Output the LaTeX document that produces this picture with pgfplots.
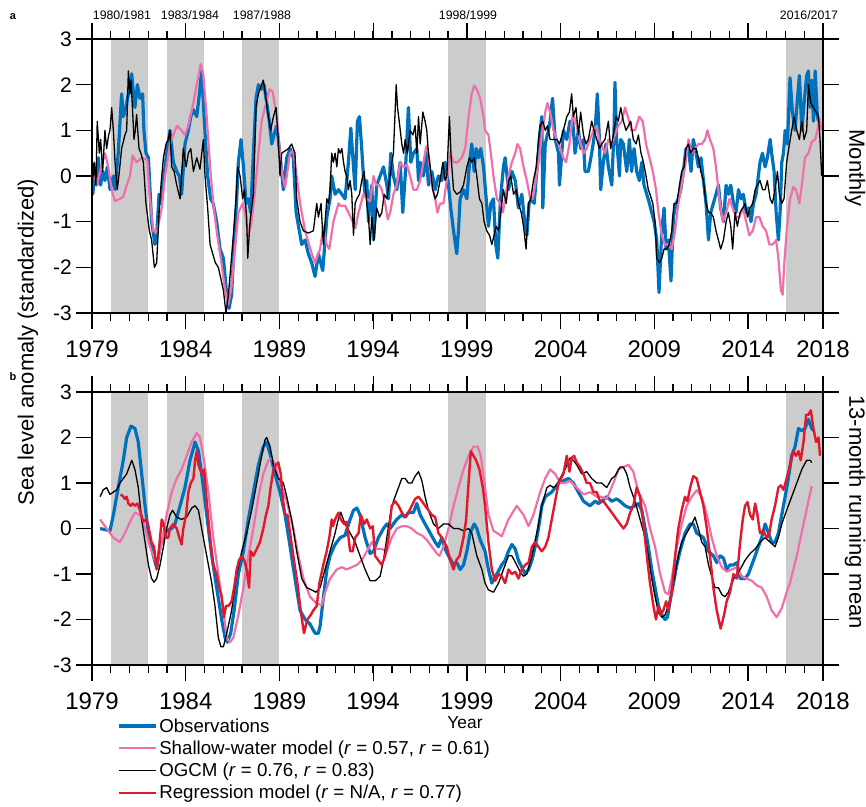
\documentclass[border=0pt]{standalone}
\usepackage{pgfplots}
\pgfplotsset{compat=1.18}
\usepackage{fontspec}
\setmainfont{Liberation Sans}

\definecolor{obsblue}{RGB}{0,114,189}
\definecolor{swpink}{RGB}{240,110,170}
\definecolor{regred}{RGB}{225,25,45}
\definecolor{shade}{RGB}{204,204,204}

\pgfplotsset{
  panel/.style={
    scale only axis, width=731pt,
    xmin=1979, xmax=2018, ymin=-3, ymax=3,
    xtick={1979,1984,1989,1994,1999,2004,2009,2014,2018},
    minor xtick={1979,...,2018},
    ytick={-3,-2,-1,0,1,2,3},
    tick align=outside, tick pos=both,
    xticklabel pos=lower, yticklabel pos=left,
    major tick length=16pt, minor tick length=8pt,
    axis line style={line width=1.8pt},
    tick style={black, line width=1.3pt},
    axis on top,
    /pgf/number format/assume math mode=true,
    /pgf/number format/1000 sep={},
    xticklabel style={font=\fontsize{24}{28}\selectfont, inner sep=1pt, yshift=-11pt},
    yticklabel style={font=\fontsize{21}{25}\selectfont, inner sep=4pt},
    anchor=south west,
  },
  obs/.style={color=obsblue, line width=3.2pt, line join=round},
  sw/.style={color=swpink, line width=2.2pt, line join=round},
  ogcm/.style={color=black, line width=1.3pt, line join=round},
  reg/.style={color=regred, line width=2.4pt, line join=round},
  shaded/.style={fill=shade, draw=none, forget plot},
}

\begin{document}
\begin{tikzpicture}
\useasboundingbox (0,0) rectangle (866pt,-806pt);

% ---------------- panel a: monthly ----------------
\begin{axis}[panel, at={(92pt,-313pt)}, height=274pt]
\addplot[shaded] coordinates {(1980,-3) (1980,3) (1982,3) (1982,-3)} -- cycle;
\addplot[shaded] coordinates {(1983,-3) (1983,3) (1985,3) (1985,-3)} -- cycle;
\addplot[shaded] coordinates {(1987,-3) (1987,3) (1989,3) (1989,-3)} -- cycle;
\addplot[shaded] coordinates {(1998,-3) (1998,3) (2000,3) (2000,-3)} -- cycle;
\addplot[shaded] coordinates {(2016,-3) (2016,3) (2018,3) (2018,-3)} -- cycle;

% observations
\addplot[obs] coordinates {
(1979.00,0.05) (1979.04,-0.4) (1979.16,0.1) (1979.25,-0.2) (1979.34,0.4) (1979.46,-0.2)
(1979.57,0.1) (1979.69,-0.1) (1979.82,0.2) (1979.96,-0.3) (1980.14,0.0) (1980.23,-0.3)
(1980.40,0.5) (1980.58,1.8) (1980.67,1.3) (1980.81,1.5) (1980.94,1.8) (1981.12,2.24)
(1981.21,1.8) (1981.29,1.5) (1981.42,2.0) (1981.56,1.7) (1981.70,1.8) (1981.77,1.0)
(1981.88,0.5) (1982.01,0.4) (1982.18,-1.0) (1982.36,-1.5) (1982.45,-1.3) (1982.58,-0.4)
(1982.68,-0.6) (1982.81,-0.1) (1982.98,0.5) (1983.16,1.0) (1983.34,0.3) (1983.52,0.1)
(1983.66,0.0) (1983.78,-0.4) (1983.96,0.7) (1984.14,1.0) (1984.27,1.3) (1984.41,1.45)
(1984.59,1.3) (1984.73,1.8) (1984.85,2.3) (1984.98,1.3) (1985.17,0.0) (1985.33,-0.5)
(1985.47,-0.6) (1985.65,-1.0) (1985.83,-1.6) (1986.01,-1.8) (1986.19,-2.6) (1986.31,-2.9)
(1986.45,-2.6) (1986.58,-1.5) (1986.72,-0.5) (1986.81,0.3) (1986.95,0.8) (1987.08,0.2)
(1987.22,-0.6) (1987.34,-0.5) (1987.47,-0.8) (1987.61,0.5) (1987.75,1.7) (1987.88,2.0)
(1988.05,1.9) (1988.18,2.0) (1988.32,1.6) (1988.46,1.2) (1988.59,0.7) (1988.71,0.9)
(1988.85,1.1) (1988.94,0.8) (1989.07,0.3) (1989.21,-0.3) (1989.39,0.4) (1989.57,0.6)
(1989.74,0.4) (1989.89,-0.8) (1990.06,-1.2) (1990.19,-1.5) (1990.37,-1.4) (1990.54,-1.7)
(1990.72,-1.9) (1990.90,-2.2) (1991.08,-1.7) (1991.20,-1.9) (1991.31,-2.07) (1991.53,-0.9)
(1991.70,-0.5) (1991.79,0.0) (1991.97,-0.4) (1992.15,-0.3) (1992.33,-0.4) (1992.50,-0.5)
(1992.68,0.3) (1992.81,1.05) (1992.95,0.2) (1993.04,-0.3) (1993.16,1.2) (1993.27,1.3)
(1993.39,0.6) (1993.48,0.0) (1993.57,-0.4) (1993.66,-0.1) (1993.75,-1.0) (1993.84,-0.5)
(1993.93,-0.2) (1994.02,-1.4) (1994.19,-0.2) (1994.37,0.0) (1994.55,0.2) (1994.73,-0.2)
(1994.82,-0.5) (1994.94,0.5) (1995.08,0.0) (1995.26,-0.3) (1995.44,0.3) (1995.58,-0.8)
(1995.71,0.0) (1995.88,1.5) (1996.01,0.3) (1996.15,0.5) (1996.33,0.6) (1996.42,-0.1)
(1996.51,0.3) (1996.68,0.0) (1996.83,0.5) (1996.95,-0.2) (1997.13,0.1) (1997.31,-0.3)
(1997.48,0.0) (1997.66,-0.1) (1997.84,0.3) (1998.02,-0.2) (1998.14,-0.7) (1998.29,-1.2)
(1998.46,-1.7) (1998.55,-1.2) (1998.64,-0.5) (1998.82,-0.3) (1999.00,-0.5) (1999.14,0.3)
(1999.26,0.7) (1999.39,0.1) (1999.49,0.6) (1999.62,0.4) (1999.74,0.6) (1999.89,0.2)
(2000.03,-0.5) (2000.15,-1.1) (2000.28,-0.6) (2000.42,-0.5) (2000.54,-1.5) (2000.65,-1.8)
(2000.78,-0.6) (2000.86,-0.2) (2000.95,0.2) (2001.04,0.4) (2001.22,-0.3) (2001.40,0.1)
(2001.58,-0.1) (2001.75,-0.7) (2001.93,-0.4) (2002.06,-0.9) (2002.20,-1.3) (2002.32,-0.6)
(2002.47,-0.5) (2002.59,-0.6) (2002.73,0.1) (2002.82,0.5) (2002.91,1.0) (2003.00,1.3)
(2003.05,-0.7) (2003.18,0.7) (2003.35,1.0) (2003.44,1.2) (2003.57,1.7) (2003.71,0.8)
(2003.89,0.5) (2003.94,-0.2) (2004.15,1.0) (2004.33,0.8) (2004.50,1.2) (2004.65,1.2)
(2004.77,0.5) (2004.95,1.0) (2005.07,0.6) (2005.22,0.8) (2005.30,0.1) (2005.48,0.1)
(2005.66,0.5) (2005.84,1.0) (2005.96,1.8) (2006.07,0.8) (2006.14,-0.3) (2006.28,0.3)
(2006.42,0.7) (2006.55,0.2) (2006.73,-0.2) (2006.85,1.0) (2006.90,2.05) (2006.99,0.8)
(2007.14,0.0) (2007.21,0.8) (2007.35,0.7) (2007.53,0.1) (2007.67,0.8) (2007.79,0.1)
(2007.92,0.6) (2008.06,0.1) (2008.20,-0.1) (2008.33,0.3) (2008.45,-0.2) (2008.60,-0.4)
(2008.74,-0.6) (2008.86,-0.8) (2008.99,-1.0) (2009.13,-1.4) (2009.25,-2.55) (2009.40,-1.2)
(2009.52,-0.7) (2009.63,-1.6) (2009.75,-1.4) (2009.89,-2.3) (2010.02,-0.9) (2010.16,-0.6)
(2010.28,-0.5) (2010.41,-0.3) (2010.55,0.1) (2010.69,0.6) (2010.82,0.6) (2010.96,0.1)
(2011.08,0.8) (2011.23,0.5) (2011.35,0.2) (2011.49,0.4) (2011.62,-0.1) (2011.76,-0.6)
(2011.89,-1.4) (2012.01,-0.8) (2012.15,-0.6) (2012.29,-0.4) (2012.42,-0.2) (2012.54,-0.7)
(2012.69,-1.0) (2012.83,-0.2) (2012.95,-0.4) (2013.08,-0.2) (2013.22,-0.6) (2013.36,-0.8)
(2013.49,-0.3) (2013.63,-0.5) (2013.75,-0.4) (2013.90,-0.8) (2014.02,-0.7) (2014.16,-1.0)
(2014.29,-0.6) (2014.43,-0.4) (2014.55,0.0) (2014.64,0.3) (2014.77,0.5) (2014.91,0.2)
(2015.03,0.4) (2015.18,0.8) (2015.26,0.5) (2015.39,0.1) (2015.50,-0.8) (2015.62,-1.4)
(2015.71,-0.8) (2015.80,0.3) (2015.89,0.5) (2015.98,1.0) (2016.10,0.7) (2016.24,2.15)
(2016.37,1.4) (2016.51,1.0) (2016.60,1.5) (2016.74,2.2) (2016.87,1.0) (2016.99,1.6)
(2017.13,2.2) (2017.22,2.3) (2017.31,1.5) (2017.40,2.1) (2017.49,1.2) (2017.58,2.3)
(2017.70,1.3) (2017.76,1.2)
};

% shallow-water model
\addplot[sw] coordinates {
(1979.00,0.3) (1979.25,-0.2) (1979.69,0.5) (1979.87,0.2) (1980.05,-0.3) (1980.23,-0.55)
(1980.49,-0.5) (1980.67,-0.45) (1980.85,-0.2) (1981.03,0.0) (1981.17,0.45) (1981.38,0.3)
(1981.65,0.4) (1981.95,0.35) (1982.09,-0.5) (1982.27,-1.2) (1982.45,-1.25) (1982.72,-0.7)
(1982.90,0.0) (1983.16,0.7) (1983.43,1.0) (1983.55,1.1) (1983.78,1.0) (1983.96,0.9)
(1984.14,1.1) (1984.41,1.6) (1984.59,2.0) (1984.80,2.45) (1984.94,2.2) (1985.12,1.3)
(1985.30,0.2) (1985.47,-0.6) (1985.65,-1.2) (1985.87,-1.8) (1986.10,-2.5) (1986.28,-2.8)
(1986.45,-2.4) (1986.63,-1.6) (1986.81,-0.8) (1987.04,-0.6) (1987.16,-0.8) (1987.34,-1.3)
(1987.52,-1.0) (1987.70,-0.3) (1987.88,0.5) (1988.05,1.2) (1988.23,1.5) (1988.46,1.9)
(1988.64,1.85) (1988.85,1.3) (1989.03,0.5) (1989.17,0.0) (1989.30,-0.25) (1989.57,0.5)
(1989.74,0.55) (1989.92,0.0) (1990.10,-0.6) (1990.37,-1.2) (1990.72,-1.7) (1990.90,-1.9)
(1991.17,-1.6) (1991.34,-1.1) (1991.52,-1.5) (1991.66,-1.6) (1991.88,-1.0) (1992.15,-0.6)
(1992.24,-0.65) (1992.50,-0.65) (1992.68,-0.8) (1992.86,-0.95) (1993.04,-1.15) (1993.22,-0.8)
(1993.48,-0.4) (1993.66,-0.5) (1993.84,-0.55) (1994.02,0.0) (1994.16,-0.2) (1994.34,-0.2)
(1994.46,-0.3) (1994.64,-0.6) (1994.78,-0.95) (1994.91,-0.8) (1995.08,-0.4) (1995.26,-0.2)
(1995.44,0.3) (1995.62,0.2) (1995.80,0.25) (1995.97,0.0) (1996.15,-0.3) (1996.33,-0.3)
(1996.51,-0.1) (1996.68,0.3) (1996.83,0.65) (1996.95,0.5) (1997.13,-0.2) (1997.31,-0.5)
(1997.43,-0.8) (1997.57,-0.6) (1997.75,-0.6) (1997.93,-0.1) (1998.11,0.5) (1998.29,0.3)
(1998.50,0.3) (1998.73,0.4) (1998.91,0.6) (1999.09,1.3) (1999.26,1.8) (1999.39,1.98)
(1999.53,1.9) (1999.71,1.7) (1999.89,1.3) (1999.97,1.0) (2000.15,0.9) (2000.28,0.5)
(2000.42,0.0) (2000.60,-0.5) (2000.78,-0.6) (2000.92,-0.8) (2001.04,-0.5) (2001.22,0.0)
(2001.40,0.3) (2001.58,0.5) (2001.70,0.7) (2001.84,0.6) (2002.02,0.2) (2002.20,-0.1)
(2002.38,-0.5) (2002.52,-0.5) (2002.64,-0.2) (2002.82,0.3) (2003.00,0.9) (2003.18,1.4)
(2003.30,1.6) (2003.44,1.4) (2003.62,1.0) (2003.80,0.8) (2003.98,0.6) (2004.15,0.4)
(2004.29,0.3) (2004.47,0.7) (2004.65,1.35) (2004.82,1.2) (2005.00,0.8) (2005.22,0.5)
(2005.39,0.6) (2005.57,0.8) (2005.75,1.0) (2005.93,1.1) (2006.07,0.8) (2006.25,0.6)
(2006.37,0.5) (2006.55,0.8) (2006.73,0.7) (2006.90,0.9) (2007.08,1.1) (2007.26,1.2)
(2007.44,1.5) (2007.62,1.25) (2007.79,1.0) (2007.97,1.0) (2008.20,1.3) (2008.38,1.2)
(2008.56,0.7) (2008.74,0.4) (2008.92,0.1) (2009.09,-0.3) (2009.22,-0.8) (2009.40,-1.3)
(2009.57,-1.5) (2009.75,-1.5) (2009.93,-1.6) (2010.11,-1.2) (2010.28,-0.6) (2010.46,-0.2)
(2010.64,0.2) (2010.82,0.8) (2011.00,0.5) (2011.17,0.6) (2011.35,0.7) (2011.53,0.7)
(2011.71,0.8) (2011.83,1.0) (2011.97,0.8) (2012.15,0.6) (2012.29,0.2) (2012.47,-0.5)
(2012.65,-1.0) (2012.83,-0.8) (2013.01,-0.5) (2013.18,-0.7) (2013.36,-0.9) (2013.54,-0.9)
(2013.72,-0.7) (2013.90,-1.0) (2014.07,-1.3) (2014.25,-1.2) (2014.43,-0.9) (2014.61,-0.9)
(2014.78,-1.1) (2014.96,-1.2) (2015.14,-1.5) (2015.32,-1.5) (2015.50,-1.4) (2015.62,-1.8)
(2015.75,-2.5) (2015.85,-2.6) (2015.92,-2.0) (2016.06,-1.2) (2016.24,-0.5) (2016.42,-0.24)
(2016.56,-0.3) (2016.74,-0.6) (2016.87,-0.2) (2017.04,0.4) (2017.22,0.5) (2017.40,0.75)
(2017.58,0.8) (2017.70,1.0) (2017.81,1.25) (2017.93,1.0)
};

% ocean general circulation model
\addplot[ogcm] coordinates {
(1979.00,0.4) (1979.07,0.0) (1979.12,0.3) (1979.21,-0.2) (1979.28,1.2) (1979.39,0.5)
(1979.46,0.8) (1979.57,0.1) (1979.69,1.0) (1979.78,0.6) (1979.89,0.9) (1979.96,1.0)
(1980.05,1.5) (1980.14,1.0) (1980.23,0.3) (1980.35,-0.3) (1980.46,0.1) (1980.58,0.6)
(1980.76,0.9) (1980.85,1.0) (1980.94,2.3) (1981.03,1.8) (1981.08,2.1) (1981.17,1.4)
(1981.24,0.8) (1981.31,1.0) (1981.38,1.35) (1981.51,0.6) (1981.61,0.5) (1981.74,0.3)
(1981.88,-0.6) (1982.06,-1.2) (1982.18,-1.4) (1982.33,-2.0) (1982.45,-1.9) (1982.58,-0.8)
(1982.68,-0.2) (1982.81,0.4) (1982.95,0.7) (1983.07,0.8) (1983.16,1.0) (1983.25,0.2)
(1983.38,0.1) (1983.52,-0.2) (1983.70,-0.5) (1983.87,0.6) (1984.02,0.2) (1984.14,0.5)
(1984.27,0.6) (1984.41,0.1) (1984.59,0.4) (1984.76,0.15) (1984.94,0.8) (1985.03,0.0)
(1985.17,-0.7) (1985.30,-1.5) (1985.44,-1.7) (1985.58,-1.9) (1985.74,-2.0) (1986.01,-2.5)
(1986.15,-3.0) (1986.28,-2.6) (1986.40,-2.0) (1986.54,-1.3) (1986.67,-0.6) (1986.77,0.2)
(1986.90,0.0) (1987.04,-0.5) (1987.13,-0.3) (1987.25,-0.9) (1987.31,-1.8) (1987.43,-1.0)
(1987.61,-0.4) (1987.75,1.5) (1987.88,1.8) (1987.96,1.9) (1988.14,2.1) (1988.28,1.7)
(1988.41,1.3) (1988.53,1.0) (1988.68,1.3) (1988.82,1.5) (1988.94,0.8) (1989.03,0.0)
(1989.12,0.5) (1989.48,0.6) (1989.65,0.7) (1989.83,0.5) (1989.92,-0.5) (1990.10,-1.0)
(1990.28,-1.2) (1990.54,-1.25) (1990.81,-1.2) (1990.99,-0.6) (1991.08,-0.9) (1991.22,-0.6)
(1991.34,-1.5) (1991.53,-0.5) (1991.62,-0.6) (1991.70,-0.3) (1991.79,0.5) (1991.88,0.3)
(1991.97,0.5) (1992.06,0.2) (1992.15,0.6) (1992.24,0.5) (1992.33,0.6) (1992.42,0.3)
(1992.50,0.1) (1992.59,0.0) (1992.68,-0.3) (1992.77,-0.1) (1992.86,-0.4) (1992.95,-1.3)
(1993.04,-0.6) (1993.13,-0.5) (1993.27,-0.4) (1993.39,-0.1) (1993.52,0.1) (1993.66,-0.6)
(1993.75,-0.9) (1993.84,-1.5) (1993.93,-0.9) (1994.05,-1.4) (1994.19,-0.7) (1994.34,-0.9)
(1994.46,-0.8) (1994.59,-0.4) (1994.73,-0.5) (1994.87,-0.1) (1995.00,0.3) (1995.08,0.5)
(1995.23,2.0) (1995.30,1.5) (1995.39,1.2) (1995.53,0.7) (1995.62,0.5) (1995.71,0.8)
(1995.83,0.5) (1995.97,1.0) (1996.12,0.9) (1996.24,1.1) (1996.33,0.5) (1996.42,1.3)
(1996.51,0.7) (1996.65,1.4) (1996.77,1.2) (1996.86,1.0) (1996.95,0.5) (1997.04,0.2)
(1997.18,-0.3) (1997.31,-0.5) (1997.43,-0.4) (1997.57,-0.1) (1997.72,0.3) (1997.84,-0.1)
(1997.93,0.0) (1998.07,1.3) (1998.16,0.4) (1998.29,-0.3) (1998.46,-0.4) (1998.64,-0.35)
(1998.82,-0.2) (1999.00,0.2) (1999.14,0.4) (1999.26,0.3) (1999.39,0.4) (1999.53,0.0)
(1999.67,-0.5) (1999.80,-0.6) (1999.92,-1.0) (2000.06,-1.2) (2000.21,-1.3) (2000.33,-1.5)
(2000.45,-1.3) (2000.56,-1.1) (2000.69,-1.2) (2000.81,-0.8) (2000.95,-0.3) (2001.10,-0.6)
(2001.22,-0.1) (2001.34,0.0) (2001.49,-0.4) (2001.63,-0.3) (2001.75,-0.6) (2001.90,-0.8)
(2002.02,-1.1) (2002.16,-1.6) (2002.29,-0.6) (2002.41,-0.5) (2002.55,-0.1) (2002.70,0.2)
(2002.82,0.8) (2002.91,1.1) (2003.05,1.2) (2003.18,1.0) (2003.30,1.1) (2003.44,0.8)
(2003.62,0.8) (2003.80,0.8) (2003.94,0.7) (2004.15,1.0) (2004.33,1.3) (2004.47,1.4)
(2004.59,1.8) (2004.68,1.3) (2004.82,1.5) (2004.95,0.9) (2005.07,1.4) (2005.22,0.9)
(2005.36,0.7) (2005.48,0.8) (2005.66,1.2) (2005.78,1.0) (2005.93,0.8) (2006.07,0.6)
(2006.19,0.7) (2006.37,0.8) (2006.55,1.2) (2006.67,0.6) (2006.82,0.9) (2006.96,1.3)
(2007.08,1.2) (2007.21,1.5) (2007.35,1.2) (2007.49,1.0) (2007.62,1.1) (2007.74,1.2)
(2007.88,0.8) (2008.03,0.7) (2008.15,0.9) (2008.29,0.5) (2008.42,0.3) (2008.56,0.0)
(2008.68,-0.3) (2008.77,-0.4) (2008.92,-0.6) (2009.04,-1.0) (2009.13,-1.8) (2009.27,-1.9)
(2009.40,-1.8) (2009.52,-1.6) (2009.66,-1.6) (2009.80,-1.5) (2009.93,-1.2) (2010.05,-0.6)
(2010.20,-0.6) (2010.34,-0.2) (2010.46,0.1) (2010.59,0.2) (2010.69,0.6) (2010.82,0.7)
(2010.94,0.5) (2011.08,0.6) (2011.23,0.6) (2011.35,0.4) (2011.48,0.1) (2011.62,-0.1)
(2011.76,-0.6) (2011.89,-0.8) (2012.01,-0.8) (2012.15,-0.9) (2012.29,-1.2) (2012.42,-1.4)
(2012.54,-1.6) (2012.69,-1.4) (2012.83,-1.0) (2012.95,-0.8) (2013.08,-1.1) (2013.18,-1.6)
(2013.31,-0.8) (2013.43,-1.1) (2013.57,-0.8) (2013.72,-0.7) (2013.84,-0.6) (2013.97,-0.9)
(2014.11,-0.7) (2014.25,-0.6) (2014.38,-0.3) (2014.50,-0.2) (2014.64,-0.1) (2014.78,-0.3)
(2014.91,-0.3) (2015.03,-0.1) (2015.18,-0.5) (2015.30,-0.6) (2015.44,-0.3) (2015.57,0.1)
(2015.67,-0.4) (2015.80,-0.6) (2015.92,-0.5) (2016.06,0.3) (2016.21,0.7) (2016.33,1.0)
(2016.46,1.3) (2016.60,1.0) (2016.74,0.8) (2016.87,1.2) (2016.99,0.8) (2017.13,1.0)
(2017.22,2.0) (2017.35,1.6) (2017.49,1.5) (2017.63,1.4) (2017.76,1.3) (2017.84,0.8)
(2017.93,0.0)
};
\end{axis}

% ---------------- panel b: 13-month running mean ----------------
\begin{axis}[panel, at={(92pt,-665pt)}, height=273pt,
  legend style={draw=none, fill=none, at={(axis description cs:0.034,-0.188)},
    anchor=north west, font=\fontsize{18.7}{22.4}\selectfont,
    row sep=3.2pt, inner sep=0pt, cells={anchor=west}},
  legend cell align=left,
  legend image code/.code={\draw[#1] (0pt,0pt) -- (37pt,0pt);},
]
\addplot[shaded] coordinates {(1980,-3) (1980,3) (1982,3) (1982,-3)} -- cycle;
\addplot[shaded] coordinates {(1983,-3) (1983,3) (1985,3) (1985,-3)} -- cycle;
\addplot[shaded] coordinates {(1987,-3) (1987,3) (1989,3) (1989,-3)} -- cycle;
\addplot[shaded] coordinates {(1998,-3) (1998,3) (2000,3) (2000,-3)} -- cycle;
\addplot[shaded] coordinates {(2016,-3) (2016,3) (2018,3) (2018,-3)} -- cycle;

\addplot[obs] coordinates {
(1979.43,0.0) (1979.96,-0.05) (1980.14,0.3) (1980.40,0.9) (1980.67,1.5) (1980.85,2.0)
(1981.08,2.25) (1981.29,2.2) (1981.47,1.9) (1981.65,1.2) (1981.83,0.5) (1982.01,-0.1)
(1982.27,-0.6) (1982.45,-0.86) (1982.63,-0.4) (1982.81,-0.2) (1982.98,-0.05) (1983.25,0.0)
(1983.43,0.1) (1983.70,0.5) (1983.96,0.9) (1984.23,1.5) (1984.50,1.9) (1984.68,1.7)
(1984.85,1.2) (1985.12,0.3) (1985.39,-0.6) (1985.65,-1.3) (1985.92,-2.0) (1986.10,-2.4)
(1986.22,-2.5) (1986.40,-2.3) (1986.58,-1.8) (1986.81,-1.0) (1987.08,-0.5) (1987.34,0.2)
(1987.61,0.8) (1987.88,1.4) (1988.14,1.8) (1988.32,1.9) (1988.53,1.6) (1988.76,1.2)
(1989.03,0.8) (1989.30,0.3) (1989.57,-0.4) (1989.83,-1.1) (1990.10,-1.8) (1990.37,-2.0)
(1990.63,-2.1) (1990.90,-2.3) (1991.08,-2.3) (1991.17,-2.14) (1991.35,-1.5) (1991.53,-0.9)
(1991.70,-0.6) (1991.97,-0.35) (1992.24,-0.2) (1992.50,-0.15) (1992.77,0.2) (1992.95,0.4)
(1993.13,0.45) (1993.30,0.3) (1993.57,-0.2) (1993.84,-0.55) (1994.02,-0.5) (1994.28,-0.2)
(1994.55,0.0) (1994.73,0.1) (1994.91,0.0) (1995.08,0.1) (1995.26,0.2) (1995.53,0.3)
(1995.71,0.25) (1995.88,0.35) (1996.15,0.35) (1996.33,0.55) (1996.51,0.3) (1996.77,0.1)
(1997.04,-0.1) (1997.31,-0.3) (1997.48,-0.4) (1997.66,-0.2) (1997.84,-0.45) (1998.02,-0.6)
(1998.29,-0.8) (1998.46,-0.75) (1998.64,-0.9) (1998.82,-0.8) (1999.00,-0.5) (1999.17,-0.1)
(1999.39,0.1) (1999.53,0.0) (1999.71,-0.25) (1999.97,-0.5) (2000.15,-0.9) (2000.33,-1.2)
(2000.45,-1.1) (2000.60,-1.0) (2000.86,-0.8) (2001.04,-0.7) (2001.22,-0.5) (2001.40,-0.35)
(2001.58,-0.45) (2001.75,-0.7) (2001.93,-0.85) (2002.11,-1.0) (2002.29,-0.9) (2002.47,-0.7)
(2002.64,-0.4) (2002.82,0.0) (2003.00,0.5) (2003.18,0.7) (2003.35,0.75) (2003.53,0.8)
(2003.71,0.9) (2003.89,1.0) (2004.15,1.05) (2004.42,1.1) (2004.68,1.0) (2004.95,0.8)
(2005.22,0.6) (2005.39,0.55) (2005.57,0.5) (2005.84,0.6) (2006.02,0.55) (2006.19,0.6)
(2006.46,0.7) (2006.73,0.6) (2006.99,0.65) (2007.17,0.6) (2007.44,0.5) (2007.71,0.45)
(2007.97,0.5) (2008.15,0.55) (2008.33,0.4) (2008.51,0.0) (2008.68,-0.4) (2008.86,-0.9)
(2009.04,-1.3) (2009.22,-1.7) (2009.40,-1.9) (2009.57,-2.0) (2009.70,-1.95) (2009.84,-1.6)
(2010.02,-1.2) (2010.20,-0.8) (2010.37,-0.5) (2010.64,-0.1) (2010.91,0.1) (2011.08,0.1)
(2011.26,-0.1) (2011.44,-0.15) (2011.62,-0.2) (2011.89,-0.5) (2012.15,-0.6) (2012.33,-0.75)
(2012.51,-0.6) (2012.69,-0.65) (2012.86,-0.9) (2013.04,-0.8) (2013.22,-0.8) (2013.40,-0.75)
(2013.58,-1.1) (2013.84,-1.1) (2014.02,-1.0) (2014.20,-0.8) (2014.38,-0.6) (2014.55,-0.4)
(2014.73,-0.2) (2014.91,0.1) (2015.09,-0.1) (2015.26,-0.3) (2015.44,-0.3) (2015.62,-0.1)
(2015.80,0.3) (2015.98,0.7) (2016.15,1.1) (2016.33,1.6) (2016.51,1.8) (2016.69,2.2)
(2016.87,2.15) (2017.04,2.2) (2017.22,2.4) (2017.40,2.2) (2017.49,2.15)
};
\addlegendentry{Observations}

\addplot[sw] coordinates {
(1979.43,0.2) (1979.78,0.0) (1980.14,-0.2) (1980.49,-0.3) (1980.76,-0.1) (1981.03,0.15)
(1981.29,0.35) (1981.56,0.3) (1981.83,0.0) (1982.09,-0.4) (1982.36,-0.7) (1982.49,-0.75)
(1982.72,-0.3) (1982.98,0.3) (1983.25,0.8) (1983.52,1.1) (1983.78,1.3) (1984.05,1.6)
(1984.32,1.9) (1984.59,2.1) (1984.76,2.0) (1984.94,1.6) (1985.21,0.8) (1985.47,-0.2)
(1985.74,-1.0) (1986.01,-1.8) (1986.19,-2.4) (1986.36,-2.5) (1986.54,-2.4) (1986.81,-1.9)
(1987.08,-1.3) (1987.34,-0.6) (1987.61,0.0) (1987.88,0.7) (1988.14,1.2) (1988.41,1.5)
(1988.59,1.55) (1988.76,1.4) (1989.03,1.0) (1989.39,0.6) (1989.74,0.0) (1990.01,-0.6)
(1990.28,-1.1) (1990.63,-1.5) (1990.99,-1.65) (1991.26,-1.68) (1991.44,-1.4) (1991.70,-1.1)
(1992.06,-0.9) (1992.33,-0.85) (1992.59,-0.9) (1992.86,-0.85) (1993.13,-0.8) (1993.39,-0.7)
(1993.66,-0.5) (1993.93,-0.3) (1994.19,-0.45) (1994.46,-0.45) (1994.73,-0.5) (1994.99,-0.2)
(1995.26,0.0) (1995.53,0.05) (1995.80,0.05) (1996.06,0.0) (1996.33,-0.1) (1996.60,-0.15)
(1996.86,-0.25) (1997.13,-0.4) (1997.40,-0.55) (1997.54,-0.6) (1997.75,-0.4) (1998.02,0.0)
(1998.29,0.5) (1998.55,0.9) (1998.82,1.3) (1999.09,1.6) (1999.35,1.8) (1999.58,1.8)
(1999.74,1.6) (1999.97,0.9) (2000.15,0.3) (2000.42,-0.05) (2000.69,-0.12) (2000.86,-0.17)
(2001.22,0.2) (2001.66,0.5) (2002.02,0.3) (2002.29,0.05) (2002.55,0.3) (2002.91,0.8)
(2003.18,1.1) (2003.44,1.3) (2003.71,1.2) (2003.98,1.0) (2004.24,1.0) (2004.50,1.05)
(2004.86,0.9) (2005.22,0.75) (2005.57,0.8) (2005.93,0.7) (2006.19,0.7) (2006.46,0.65)
(2006.82,1.0) (2007.08,1.3) (2007.35,1.35) (2007.62,1.4) (2007.88,1.25) (2008.15,0.8)
(2008.51,0.5) (2008.77,0.0) (2009.04,-0.4) (2009.31,-1.0) (2009.57,-1.4) (2009.75,-1.45)
(2009.93,-1.1) (2010.20,-0.4) (2010.46,0.1) (2010.73,0.5) (2011.00,0.7) (2011.26,0.84)
(2011.53,0.7) (2011.80,0.3) (2012.06,-0.2) (2012.33,-0.6) (2012.60,-0.85) (2012.86,-0.95)
(2013.13,-0.9) (2013.40,-0.85) (2013.67,-1.05) (2013.93,-1.1) (2014.20,-1.15) (2014.47,-1.25)
(2014.73,-1.3) (2015.00,-1.5) (2015.26,-1.8) (2015.53,-1.95) (2015.80,-1.75) (2016.06,-1.4)
(2016.24,-1.2) (2016.60,-0.6) (2016.96,0.1) (2017.22,0.6) (2017.40,0.93)
};
\addlegendentry{Shallow-water model (\textit{r} = 0.57, \textit{r} = 0.61)}

\addplot[ogcm] coordinates {
(1979.43,0.7) (1979.60,0.85) (1979.78,0.9) (1979.96,0.75) (1980.14,0.8) (1980.32,0.85)
(1980.49,1.0) (1980.67,1.1) (1980.85,1.2) (1981.03,1.4) (1981.12,1.5) (1981.29,1.3)
(1981.47,0.9) (1981.65,0.2) (1981.83,-0.3) (1982.01,-0.8) (1982.18,-1.1) (1982.31,-1.18)
(1982.45,-1.1) (1982.63,-0.8) (1982.81,-0.4) (1982.98,0.0) (1983.16,0.3) (1983.30,0.4)
(1983.52,0.25) (1983.78,0.2) (1984.05,0.25) (1984.32,0.45) (1984.50,0.5) (1984.68,0.4)
(1984.85,0.0) (1985.12,-0.6) (1985.39,-1.2) (1985.56,-1.7) (1985.74,-2.4) (1985.88,-2.6)
(1986.01,-2.6) (1986.19,-2.3) (1986.45,-1.8) (1986.72,-1.0) (1986.99,-0.5) (1987.25,-0.1)
(1987.52,0.4) (1987.79,1.0) (1988.05,1.6) (1988.23,1.95) (1988.32,2.0) (1988.50,1.8)
(1988.68,1.4) (1988.94,1.1) (1989.21,1.0) (1989.39,0.7) (1989.65,0.2) (1989.92,-0.5)
(1990.19,-1.1) (1990.45,-1.3) (1990.72,-1.35) (1990.95,-1.4) (1991.17,-1.3) (1991.43,-0.9)
(1991.70,-0.5) (1991.97,-0.1) (1992.14,0.2) (1992.27,0.36) (1992.50,0.1) (1992.77,-0.1)
(1993.04,-0.3) (1993.30,-0.6) (1993.57,-0.9) (1993.84,-1.15) (1994.11,-1.15) (1994.37,-1.05)
(1994.55,-0.7) (1994.73,-0.2) (1994.91,0.3) (1995.08,0.6) (1995.35,0.9) (1995.53,1.1)
(1995.71,1.1) (1995.88,1.0) (1996.06,1.0) (1996.24,1.15) (1996.42,1.25) (1996.60,1.05)
(1996.77,0.7) (1996.95,0.4) (1997.22,0.1) (1997.48,0.0) (1997.75,0.1) (1998.02,0.1)
(1998.29,0.0) (1998.55,0.0) (1998.82,-0.05) (1999.09,0.0) (1999.26,-0.1) (1999.53,-0.6)
(1999.80,-0.9) (1999.97,-1.2) (2000.15,-1.35) (2000.42,-1.4) (2000.69,-1.2) (2000.95,-0.9)
(2001.22,-0.6) (2001.40,-0.6) (2001.66,-0.8) (2001.84,-0.95) (2002.02,-1.05) (2002.20,-1.0)
(2002.47,-0.6) (2002.73,-0.1) (2003.00,0.5) (2003.27,0.9) (2003.44,0.95) (2003.62,0.9)
(2003.80,0.95) (2003.97,1.1) (2004.24,1.3) (2004.50,1.55) (2004.68,1.5) (2004.86,1.4)
(2005.13,1.2) (2005.39,1.25) (2005.66,1.1) (2005.93,1.0) (2006.19,1.0) (2006.46,0.9)
(2006.73,1.1) (2006.90,1.15) (2007.17,1.35) (2007.35,1.35) (2007.53,1.2) (2007.71,0.9)
(2007.97,0.6) (2008.24,0.2) (2008.51,-0.2) (2008.68,-0.6) (2008.86,-1.1) (2009.04,-1.5)
(2009.22,-1.85) (2009.40,-1.95) (2009.57,-1.9) (2009.75,-1.7) (2009.93,-1.4) (2010.11,-1.0)
(2010.28,-0.6) (2010.46,-0.3) (2010.73,-0.1) (2011.00,0.1) (2011.17,0.25) (2011.35,0.0)
(2011.53,-0.3) (2011.71,-0.4) (2011.89,-0.8) (2012.06,-1.05) (2012.24,-1.3) (2012.42,-1.3)
(2012.60,-1.45) (2012.77,-1.5) (2012.95,-1.4) (2013.13,-1.2) (2013.31,-1.05) (2013.58,-0.9)
(2013.84,-0.7) (2014.11,-0.55) (2014.38,-0.45) (2014.64,-0.3) (2014.91,-0.2) (2015.18,-0.3)
(2015.44,-0.4) (2015.62,-0.2) (2015.80,0.1) (2016.06,0.4) (2016.33,0.7) (2016.60,1.0)
(2016.87,1.3) (2017.13,1.5) (2017.31,1.5) (2017.40,1.45)
};
\addlegendentry{OGCM (\textit{r} = 0.76, \textit{r} = 0.83)}

\addplot[reg] coordinates {
(1980.53,0.75) (1980.67,0.7) (1980.76,0.65) (1980.85,0.7) (1980.94,0.55) (1981.06,0.5)
(1981.17,0.55) (1981.29,0.5) (1981.42,0.55) (1981.56,0.4) (1981.74,0.15) (1981.88,0.2)
(1982.01,0.05) (1982.18,-0.3) (1982.31,-0.4) (1982.45,-0.9) (1982.54,-0.6) (1982.63,-0.2)
(1982.72,0.2) (1982.81,0.1) (1982.95,-0.2) (1983.07,-0.2) (1983.16,0.0) (1983.34,0.1)
(1983.52,0.0) (1983.66,-0.2) (1983.78,-0.35) (1983.87,0.0) (1984.02,0.3) (1984.14,0.8)
(1984.27,1.0) (1984.41,1.1) (1984.50,1.5) (1984.59,1.7) (1984.68,1.4) (1984.76,1.3)
(1984.90,1.2) (1984.98,1.3) (1985.12,0.6) (1985.30,-0.2) (1985.47,-0.8) (1985.65,-1.0)
(1985.79,-1.3) (1985.92,-1.5) (1986.04,-1.95) (1986.15,-1.7) (1986.28,-1.7) (1986.45,-1.6)
(1986.58,-1.3) (1986.72,-0.9) (1986.84,-0.7) (1986.99,-0.6) (1987.13,-0.7) (1987.25,-0.9)
(1987.38,-1.3) (1987.47,-0.5) (1987.61,-0.6) (1987.79,-0.45) (1987.96,-0.3) (1988.14,0.0)
(1988.28,0.3) (1988.41,0.5) (1988.53,0.9) (1988.68,1.3) (1988.82,1.4) (1988.94,1.45)
(1989.07,1.2) (1989.17,0.7) (1989.30,0.3) (1989.43,0.3) (1989.57,-0.1) (1989.74,-0.6)
(1989.96,-1.2) (1990.13,-1.8) (1990.31,-2.3) (1990.49,-2.0) (1990.67,-1.9) (1990.81,-1.8)
(1990.99,-1.7) (1991.13,-1.2) (1991.34,-0.8) (1991.52,-0.5) (1991.66,-0.2) (1991.79,0.2)
(1991.85,0.05) (1991.97,0.2) (1992.15,0.35) (1992.27,0.2) (1992.45,0.1) (1992.59,0.15)
(1992.77,-0.5) (1992.91,-0.5) (1993.04,-0.2) (1993.22,-0.1) (1993.34,0.3) (1993.52,0.1)
(1993.66,0.2) (1993.84,0.0) (1993.98,0.05) (1994.10,-0.6) (1994.28,-0.7) (1994.46,-0.8)
(1994.64,-0.6) (1994.82,-0.2) (1994.99,0.5) (1995.17,0.6) (1995.35,0.5) (1995.53,0.35)
(1995.71,0.25) (1995.88,0.35) (1996.06,0.5) (1996.24,0.65) (1996.42,0.7) (1996.60,0.6)
(1996.77,0.5) (1996.95,0.4) (1997.13,0.3) (1997.31,0.25) (1997.48,-0.1) (1997.66,-0.2)
(1997.93,-0.4) (1998.11,-0.7) (1998.29,-0.9) (1998.43,-0.7) (1998.61,-0.6) (1998.82,-0.2)
(1998.96,0.2) (1999.09,1.0) (1999.21,1.7) (1999.35,1.6) (1999.49,1.5) (1999.67,1.3)
(1999.85,0.9) (1999.97,0.5) (2000.15,-0.3) (2000.33,-0.9) (2000.51,-1.15) (2000.69,-1.0)
(2000.86,-1.05) (2001.04,-1.2) (2001.22,-0.9) (2001.40,-1.0) (2001.58,-0.95) (2001.75,-1.1)
(2001.93,-0.9) (2002.11,-0.8) (2002.29,-0.75) (2002.47,-0.4) (2002.64,-0.3) (2002.82,-0.4)
(2003.00,-0.5) (2003.18,-0.4) (2003.35,-0.2) (2003.53,0.2) (2003.71,0.6) (2003.89,1.0)
(2004.15,1.2) (2004.33,1.6) (2004.47,1.25) (2004.59,1.55) (2004.72,1.6) (2004.86,1.45)
(2005.04,1.35) (2005.22,1.2) (2005.39,1.0) (2005.57,1.0) (2005.75,0.8) (2005.93,0.8)
(2006.10,0.6) (2006.28,0.6) (2006.46,0.5) (2006.64,0.4) (2006.82,0.3) (2006.99,0.2)
(2007.17,0.1) (2007.35,0.0) (2007.53,0.1) (2007.71,0.35) (2007.88,0.5) (2008.06,0.9)
(2008.24,0.7) (2008.42,0.1) (2008.60,-0.6) (2008.77,-1.2) (2008.95,-1.7) (2009.09,-2.0)
(2009.22,-1.7) (2009.34,-1.9) (2009.48,-1.8) (2009.63,-1.6) (2009.75,-1.8) (2009.93,-1.4)
(2010.11,-0.6) (2010.28,0.0) (2010.46,0.4) (2010.64,0.7) (2010.77,0.6) (2010.91,0.9)
(2011.08,1.15) (2011.26,1.1) (2011.44,0.8) (2011.62,0.5) (2011.80,0.0) (2011.97,-0.6)
(2012.15,-1.3) (2012.33,-1.8) (2012.54,-2.2) (2012.72,-1.9) (2012.86,-1.6) (2013.04,-1.4)
(2013.22,-1.0) (2013.40,-1.1) (2013.58,-0.3) (2013.72,0.2) (2013.84,0.5) (2013.97,0.58)
(2014.11,0.3) (2014.25,0.2) (2014.38,0.55) (2014.50,0.3) (2014.64,-0.1) (2014.82,-0.05)
(2015.00,-0.2) (2015.14,-0.1) (2015.26,0.2) (2015.44,0.5) (2015.62,0.9) (2015.75,0.95)
(2015.89,0.85) (2016.06,1.1) (2016.24,1.4) (2016.42,1.7) (2016.56,1.6) (2016.69,1.7)
(2016.81,1.5) (2016.96,1.9) (2017.10,2.5) (2017.22,2.5) (2017.35,2.6) (2017.49,2.2)
(2017.63,1.9) (2017.76,2.0) (2017.84,1.6)
};
\addlegendentry{Regression model (\textit{r} = N/A, \textit{r} = 0.77)}
\end{axis}

% panel letters, event labels and side titles
\node[font=\bfseries\fontsize{11}{13}\selectfont] at (13pt,-17pt) {a};
\node[font=\bfseries\fontsize{11}{13}\selectfont] at (13pt,-377pt) {b};
\begin{scope}[every node/.style={font=\fontsize{12.3}{14}\selectfont}]
\node at (122pt,-15pt) {1980/1981};
\node at (190pt,-15pt) {1983/1984};
\node at (262pt,-15pt) {1987/1988};
\node at (468pt,-15pt) {1998/1999};
\node at (809pt,-15pt) {2016/2017};
\end{scope}
\node[rotate=90, font=\fontsize{22}{26}\selectfont] at (28pt,-342pt) {Sea level anomaly (standardized)};
\node[rotate=-90, font=\fontsize{22}{26}\selectfont] at (855pt,-168pt) {Monthly};
\node[rotate=-90, font=\fontsize{22}{26}\selectfont] at (855pt,-512pt) {13-month running mean};
\node[font=\fontsize{17.4}{20}\selectfont, inner sep=0.5pt] at (465pt,-723pt) {Year};
\end{tikzpicture}
\end{document}
